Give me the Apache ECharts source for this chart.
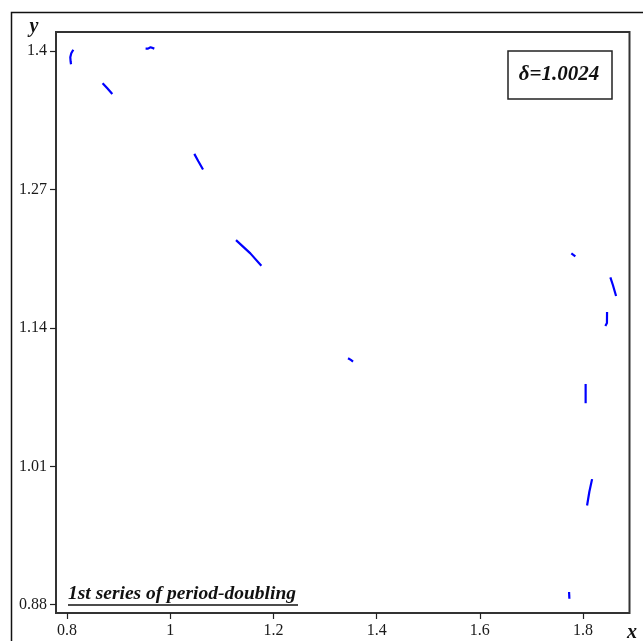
<!DOCTYPE html>
<html>
<head>
<meta charset="utf-8">
<style>
html,body{margin:0;padding:0;background:#fff;}
#chart{width:643px;height:641px;}
</style>
<script src="https://cdn.jsdelivr.net/npm/echarts@6/dist/echarts.min.js"></script>
</head>
<body>
<div id="chart"></div>
<script>
// Tick labels
const xTicks = [0.8, 1, 1.2, 1.4, 1.6, 1.8];
const yTicks = [0.88, 1.01, 1.14, 1.27, 1.4];

// Attractor branches (x, y)
const seg1  = [[0.8122,1.4014],[0.8083,1.3981],[0.8064,1.3944],[0.8070,1.3906],[0.8078,1.3878]];
const seg2  = [[0.9523,1.4025],[0.9570,1.4025],[0.9620,1.4038],[0.9655,1.4025],[0.9692,1.4025]];
const seg3  = [[0.8690,1.3700],[0.8781,1.3652],[0.8878,1.3599]];
const seg4  = [[1.0467,1.3036],[1.0545,1.2967],[1.0636,1.2889]];
const seg5  = [[1.1275,1.2226],[1.1553,1.2101],[1.1766,1.1985]];
const seg6  = [[1.3446,1.1116],[1.3500,1.1100],[1.3543,1.1084]];
const seg7  = [[1.7773,1.2101],[1.7851,1.2073]];
const seg8  = [[1.8529,1.1876],[1.8578,1.1804],[1.8640,1.1700]];
const seg9  = [[1.8465,1.1550],[1.8463,1.1447],[1.8432,1.1419]];
const seg10 = [[1.8050,1.0874],[1.8050,1.0693]];
const seg11 = [[1.8175,0.9980],[1.8122,0.9861],[1.8078,0.9732]];
const seg12 = [[1.7729,0.8919],[1.7735,0.8856]];

const segments = [seg1,seg2,seg3,seg4,seg5,seg6,seg7,seg8,seg9,seg10,seg11,seg12];

const chart = echarts.init(document.getElementById('chart'), null, {renderer:'canvas'});
const labelFont = {fontFamily:'"Liberation Serif","DejaVu Serif",serif', fontSize:16, color:'#1a1a1a'};

chart.setOption({
  animation:false,
  backgroundColor:'#fff',
  grid:{left:56, right:13.5, top:32, bottom:28, show:true, borderColor:'#333', borderWidth:2, backgroundColor:'transparent'},
  xAxis:{
    type:'value', min:0.7787, max:1.890,
    axisLine:{show:false},
    splitLine:{show:false},
    axisTick:{show:true, inside:false, length:6, lineStyle:{color:'#222', width:1.2}, customValues:xTicks},
    axisLabel:Object.assign({margin:10, customValues:xTicks, formatter:v=>String(+v.toFixed(2))}, labelFont)
  },
  yAxis:{
    type:'value', min:0.8722, max:1.4181,
    axisLine:{show:false},
    splitLine:{show:false},
    axisTick:{show:true, inside:false, length:6, lineStyle:{color:'#222', width:1.2}, customValues:yTicks},
    axisLabel:Object.assign({margin:9, customValues:yTicks, formatter:v=>String(+v.toFixed(2))}, labelFont)
  },
  series: segments.map(s=>({
    type:'line', data:s, showSymbol:false, symbol:'none',
    lineStyle:{color:'#0000ff', width:2.2}, silent:true
  })),
  graphic:[
    {type:'rect', left:9, top:10, shape:{x:0,y:0,width:700,height:700}, style:{fill:'none', stroke:'#111', lineWidth:1.5}, z:-1},
    {type:'text', x:34, y:27, style:{text:'y', font:'italic bold 20px "Liberation Serif", serif', fill:'#111', align:'center', verticalAlign:'middle'}},
    {type:'text', x:632, y:633, style:{text:'x', font:'italic bold 20px "Liberation Serif", serif', fill:'#111', align:'center', verticalAlign:'middle'}},
    {type:'rect', shape:{x:508, y:51, width:104, height:48}, style:{fill:'#fff', stroke:'#222', lineWidth:1.5}},
    {type:'text', x:559, y:75, style:{text:'δ=1.0024', font:'italic bold 21px "Liberation Serif", serif', fill:'#111', align:'center', verticalAlign:'middle'}},
    {type:'text', x:68, y:594, style:{text:'1st series of period-doubling', font:'italic bold 19.5px "Liberation Serif", serif', fill:'#111', align:'left', verticalAlign:'middle'}},
    {type:'line', shape:{x1:68, y1:605, x2:298, y2:605}, style:{stroke:'#111', lineWidth:1.5}}
  ]
});
</script>
</body>
</html>
